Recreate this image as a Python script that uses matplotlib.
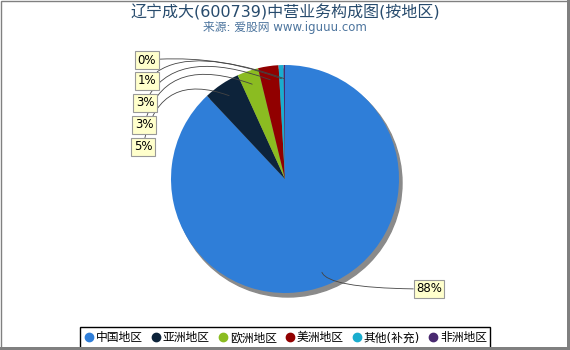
import numpy as np
import matplotlib
matplotlib.use("Agg")
import matplotlib.pyplot as plt
from matplotlib.patches import Circle, Rectangle

plt.rcParams['font.family'] = ['DejaVu Sans', 'Noto Sans CJK SC']

# data
regions = ["中国地区", "亚洲地区", "欧洲地区", "美洲地区", "其他(补充)", "非洲地区"]
shares = [88.0, 5.2, 3.0, 2.9, 0.7, 0.2]
pct_labels = ["88%", "5%", "3%", "3%", "1%", "0%"]
colors = ["#2f7ed8", "#0d233a", "#8bbc21", "#910000", "#1aadce", "#492970"]

W, H = 570, 350
fig = plt.figure(figsize=(W / 100, H / 100), dpi=100)
ax = fig.add_axes([0, 0, 1, 1])

cx, cy, R = 285, H - 179, 114

# shadow
ax.add_patch(Circle((cx + 3, cy - 4), R, color="#8a8a8a", zorder=1))

wedges, _ = ax.pie(shares, colors=colors, startangle=90, counterclock=False,
                   center=(cx, cy), radius=R, frame=True,
                   wedgeprops=dict(linewidth=0, zorder=2))
ax.set_xlim(0, W)
ax.set_ylim(0, H)
ax.set_aspect("equal")
ax.axis("off")

# label positions (pixels from top-left) and connector angles
label_pos = [(429, 289), (143, 147), (144, 125), (145, 103), (147, 81), (147, 60)]
angA = [180, 80, 75, 65, 50, 5]

for w, lab, (lx, ly), aA in zip(wedges, pct_labels, label_pos, angA):
    mid_deg = (w.theta1 + w.theta2) / 2
    mid = np.deg2rad(mid_deg)
    px = cx + 0.88 * R * np.cos(mid)
    py = cy + 0.88 * R * np.sin(mid)
    aB = mid_deg if lx > cx else -20
    ax.annotate(lab, xy=(px, py), xytext=(lx, H - ly),
                ha="center", va="center", fontsize=8.5, color="black",
                bbox=dict(boxstyle="square,pad=0.2", fc="#ffffcc", ec="#999999", lw=0.8),
                arrowprops=dict(arrowstyle="-", color="#444444", lw=0.6,
                                connectionstyle=f"angle3,angleA={aA},angleB={aB}",
                                shrinkA=0, shrinkB=0),
                zorder=5)

fig.text(285 / W, 1 - 12 / H, "辽宁成大(600739)中营业务构成图(按地区)",
         ha="center", va="center", fontsize=11.5, color="#274b6d")
fig.text(285 / W, 1 - 28 / H, "来源: 爱股网 www.iguuu.com",
         ha="center", va="center", fontsize=8.5, color="#4d759e")

# legend
ax.add_patch(Rectangle((80, H - 348), 410, 21, fill=False, ec="black", lw=1, zorder=6))
handles = [plt.Line2D([], [], marker="o", ls="", color=c, markersize=6) for c in colors]
leg = fig.legend(handles, regions, loc="center", bbox_to_anchor=(285 / W, 1 - 338 / H),
                 ncol=6, frameon=False, fontsize=8.5, handletextpad=0.1,
                 columnspacing=0.6, handlelength=1.0, borderpad=0.2)

# outer frame
fig.add_artist(Rectangle((0.5 / W, 0), 1 - 3 / W, 1 - 0.5 / H, transform=fig.transFigure,
                         fill=False, ec="#808080", lw=1))
fig.add_artist(Rectangle((1 - 3 / W, 0), 3 / W, 1, transform=fig.transFigure,
                         fc="#808080", ec="none"))
fig.add_artist(Rectangle((0, 0), 1, 3 / H, transform=fig.transFigure,
                         fc="#808080", ec="none"))

fig.savefig("out.png", dpi=100)
